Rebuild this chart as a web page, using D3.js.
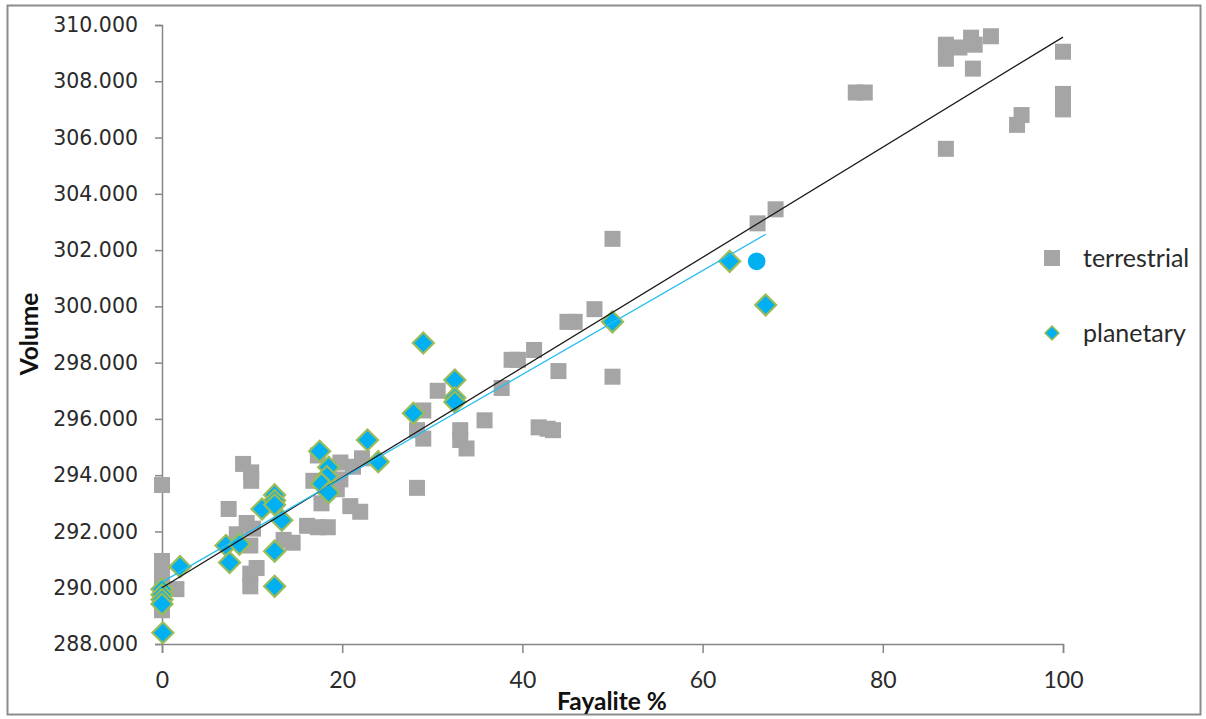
<!DOCTYPE html>
<html><head><meta charset="utf-8">
<script src="https://cdn.jsdelivr.net/npm/d3@7"></script>
<style>
html,body{margin:0;padding:0;background:#fff;}
svg{display:block;}
</style></head>
<body>
<svg id="chart" width="1206" height="719"></svg>
<script>
// ---- data ----
const terrestrialX = [0,0,0,0,0,0,1.6,7.4,8.3,9.0,9.4,9.9,9.9,10.1,9.8,9.8,10.5,9.8,13.5,14.5,16.1,17.3,18.4,16.8,17.3,17.7,19.8,19.8,19.4,20.9,22.0,21.2,22.2,28.3,28.3,29.0,29.0,30.6,33.1,33.1,33.8,35.8,37.7,38.8,39.5,41.3,41.8,42.8,43.4,44.0,45.0,45.8,48.0,50.0,50.0,66.1,68.1,77.0,78.0,87.0,87.0,87.0,88.5,89.8,90.2,92.0,90.0,95.4,94.9,100,100,100,100];
const terrestrialY = [293.65,290.95,290.5,290.0,289.6,289.2,289.95,292.8,291.9,294.4,292.3,294.1,293.8,292.1,290.5,290.05,290.7,291.5,291.7,291.6,292.2,292.15,292.15,293.8,294.7,293.0,294.45,293.85,293.5,292.9,292.7,294.3,294.6,293.55,295.6,295.3,296.3,297.0,295.6,295.25,294.95,295.95,297.1,298.1,298.1,298.45,295.7,295.65,295.6,297.7,299.45,299.45,299.9,302.4,297.5,302.95,303.45,307.6,307.6,305.6,308.8,309.3,309.2,309.55,309.3,309.6,308.45,306.8,306.45,309.05,307.55,307.25,307.0];
const planetaryX = [0.1,0,0,0,0,2.0,7.1,8.6,7.5,11.1,12.5,12.5,12.5,13.3,12.5,12.5,17.5,18.5,18.3,17.7,18.5,22.8,24.0,27.9,29.0,32.5,32.5,32.5,50.0,63.0,67.0];
const planetaryY = [288.4,289.95,289.75,289.58,289.42,290.75,291.5,291.55,290.9,292.8,293.3,293.1,292.95,292.4,291.3,290.05,294.85,294.28,293.95,293.7,293.38,295.25,294.48,296.2,298.7,297.38,296.75,296.6,299.45,301.6,300.05];
const highlightX = [66.0];
const highlightY = [301.6];
// trend lines: [intercept, slope], x extent
const terrestrialTrend = [290.0, 0.1957];
const terrestrialTrendX = [0, 100];
const planetaryTrend = [290.2, 0.1845];
const planetaryTrendX = [0, 67];
const xTicks = [0,20,40,60,80,100];
const yTicks = [288,290,292,294,296,298,300,302,304,306,308,310];
const seriesNames = ["terrestrial","planetary"];

// ---- chart ----
const svg = d3.select("#chart");
const x = d3.scaleLinear().domain([0,100]).range([162,1063]);
const y = d3.scaleLinear().domain([288,310]).range([644,25]);

// outer border
svg.append("rect").attr("x",7.5).attr("y",5.5).attr("width",1193).attr("height",709)
  .attr("fill","none").attr("stroke","#8c8c8c").attr("stroke-width",2);

// y axis
const yAxis = d3.axisLeft(y).tickValues(yTicks).tickFormat(d3.format(".3f")).tickSize(7).tickPadding(17);
const gy = svg.append("g").attr("transform","translate(162,0)").call(yAxis);
gy.select(".domain").attr("stroke","#868686").attr("stroke-width",1.5);
gy.selectAll(".tick line").attr("stroke","#868686").attr("stroke-width",1.5);
gy.selectAll(".tick text").attr("font-family","DejaVu Sans").attr("font-size",20.5).attr("fill","#2a2a2a");

// x axis
const xAxis = d3.axisBottom(x).tickValues(xTicks).tickFormat(d3.format("d")).tickSize(9).tickPadding(19);
const gx = svg.append("g").attr("transform","translate(0,644)").call(xAxis);
gx.select(".domain").attr("stroke","#868686").attr("stroke-width",1.5);
gx.selectAll(".tick line").attr("stroke","#868686").attr("stroke-width",1.5);
gx.selectAll(".tick text").attr("font-family","Lato").attr("font-size",23).attr("fill","#2a2a2a");

// titles
svg.append("text").attr("x",612).attr("y",710).attr("text-anchor","middle")
  .attr("font-family","Lato").attr("font-weight","bold").attr("font-size",24.5).attr("fill","#111").text("Fayalite %");
svg.append("text").attr("transform","translate(38,334) rotate(-90)").attr("text-anchor","middle")
  .attr("font-family","Lato").attr("font-weight","bold").attr("font-size",24.5).attr("fill","#111").text("Volume");

// terrestrial squares
const sq = 16;
const tData = terrestrialX.map((d,i)=>({x:d,y:terrestrialY[i]}));
svg.append("g").selectAll("rect").data(tData).join("rect")
  .attr("x",d=>x(d.x)-sq/2).attr("y",d=>y(d.y)-sq/2).attr("width",sq).attr("height",sq)
  .attr("fill","#a5a5a5");

// planetary diamonds
const dPath = "M0,-10.5L10.5,0L0,10.5L-10.5,0Z";
const pData = planetaryX.map((d,i)=>({x:d,y:planetaryY[i]}));
svg.append("g").selectAll("path").data(pData).join("path")
  .attr("d",dPath).attr("transform",d=>`translate(${x(d.x)},${y(d.y)})`)
  .attr("fill","#00b0f0").attr("stroke","#9bbb59").attr("stroke-width",2.2);

// highlight circle
const hData = highlightX.map((d,i)=>({x:d,y:highlightY[i]}));
svg.append("g").selectAll("circle").data(hData).join("circle")
  .attr("cx",d=>x(d.x)).attr("cy",d=>y(d.y)).attr("r",8.8).attr("fill","#00b0f0");

// trend lines
const line = d3.line().x(d=>x(d[0])).y(d=>y(d[1]));
svg.append("path").datum(terrestrialTrendX.map(v=>[v,terrestrialTrend[0]+terrestrialTrend[1]*v]))
  .attr("d",line).attr("fill","none").attr("stroke","#1a1a1a").attr("stroke-width",1.3);
svg.append("path").datum(planetaryTrendX.map(v=>[v,planetaryTrend[0]+planetaryTrend[1]*v]))
  .attr("d",line).attr("fill","none").attr("stroke","#26bdf0").attr("stroke-width",1.3);

// legend
const lg = svg.append("g");
lg.append("rect").attr("x",1052-8).attr("y",258-8).attr("width",16).attr("height",16).attr("fill","#a5a5a5");
lg.append("path").attr("d","M0,-7L7,0L0,7L-7,0Z").attr("transform","translate(1052,333)")
  .attr("fill","#00b0f0").attr("stroke","#9bbb59").attr("stroke-width",1.5);
lg.selectAll("text").data(seriesNames).join("text")
  .attr("x",1083).attr("y",(d,i)=>258+i*75).attr("dy","0.35em")
  .attr("font-family","Lato").attr("font-size",25).attr("fill","#2a2a2a").text(d=>d);
</script>
</body></html>
